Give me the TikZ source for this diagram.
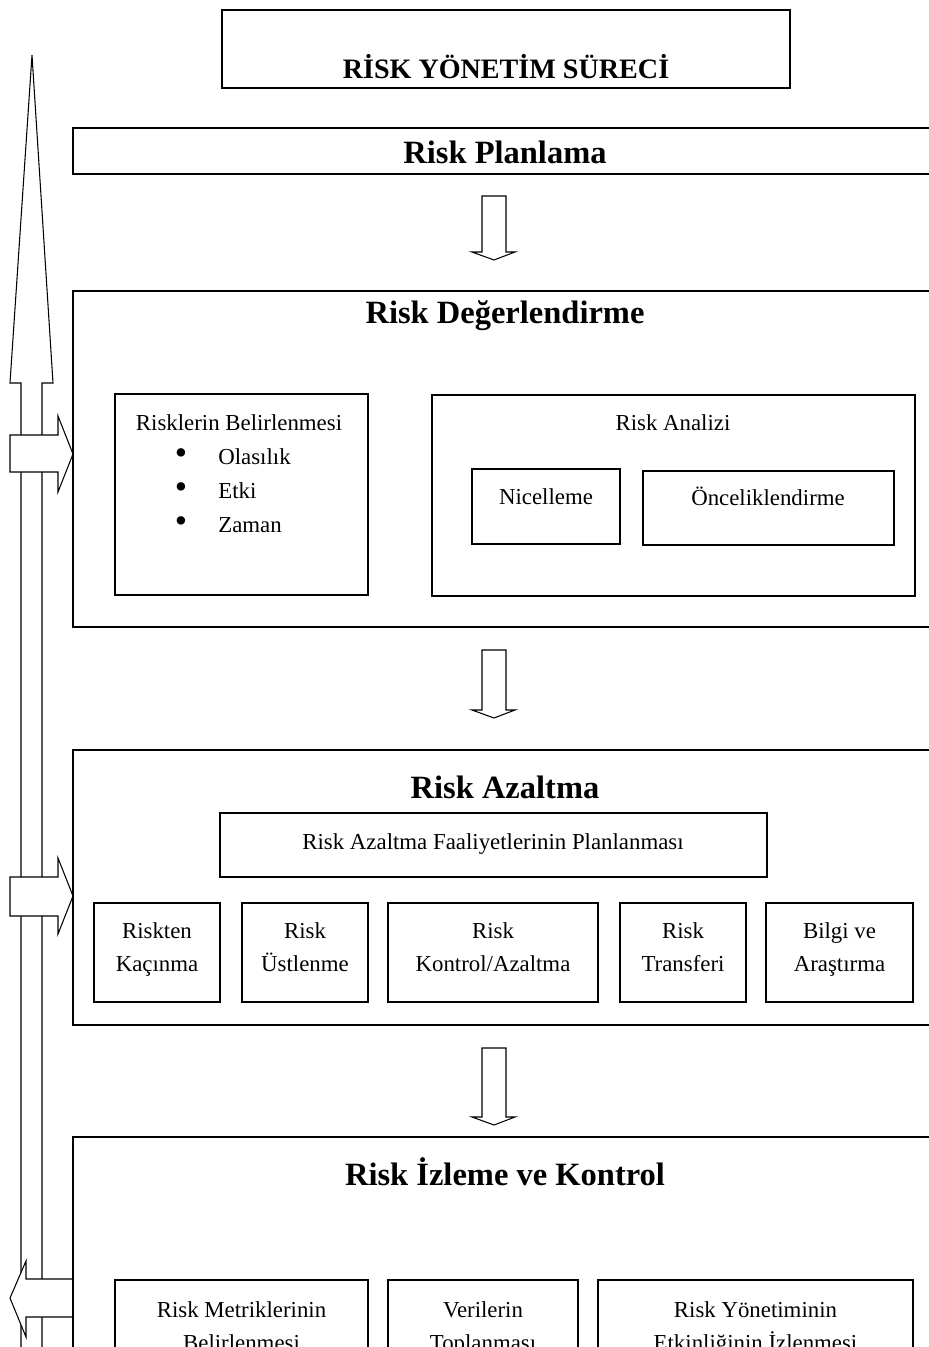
\documentclass[tikz,border=0pt]{standalone}
\usepackage{fontspec}
\setmainfont{Liberation Serif}
\usetikzlibrary{fit,positioning}
\tikzset{
  bolum/.style={draw,line width=.6pt,inner sep=0pt},
  kutu/.style={draw,line width=1.2pt,inner sep=0pt},
  baslik/.style={font=\fontsize{18.5}{22}\selectfont\bfseries},
  yazi/.style={font=\fontsize{13}{18.7}\selectfont,align=center,inner sep=0pt,
    execute at begin node=\strut,execute at end node=\strut},
  imi/.style={font=\fontsize{20}{20}\selectfont,inner sep=0pt},
  blokok/.style={draw,fill=white,line width=.6pt,line join=miter}
}
\begin{document}
\begin{tikzpicture}[x=0.02cm,y=-0.02cm]
\useasboundingbox (0,0) rectangle (929,1347);
\clip (0,0) rectangle (929,1347);
% sol dikey ok
\draw[line width=.6pt] (21,1400)--(21,383)--(10,383)--(32,55)--(53,383)--(42,383)--(42,1400);
\draw[blokok] (10,435)--(58,435)--(58,416)--(73,454)--(58,492)--(58,472)--(10,472)--cycle;
\draw[blokok] (10,877)--(58,877)--(58,858)--(73,896)--(58,934)--(58,916)--(10,916)--cycle;
\draw[blokok] (73,1279)--(26,1279)--(26,1261)--(10,1298)--(26,1337)--(26,1317)--(73,1317);
% asagi oklar
\foreach \u/\a in {196/260,650/718,1048/1125}
  \draw[blokok] (482,\u)--(506,\u)--(506,\a-8)--(515,\a-8)--(494,\a)--(472,\a-8)--(482,\a-8)--cycle;
% baslik
\node[bolum,fit={(222,10) (790,88)}] (ana) {};
\node[font=\fontsize{16}{19}\selectfont\bfseries] (anayazi) at (506,67) {RİSK YÖNETİM SÜRECİ};
% risk planlama
\node[bolum,fit={(73,128) (960,174)}] (plan) {};
\node[baslik] (planyazi) at (505,152) {Risk Planlama};
% risk degerlendirme
\node[bolum,fit={(73,291) (960,627)}] (deger) {};
\node[baslik] (degeryazi) at (505,316) {Risk Değerlendirme};
\node[kutu,fit={(115,394) (368,595)}] (belir) {};
\node[yazi] (belirt) at (239,424) {Risklerin Belirlenmesi};
\foreach \y/\t/\n in {464/Olasılık/ola,498/Etki/etk,532/Zaman/zam}{
  \node[imi] (b\n) at (181,\y-7) {\textbullet};
  \node[yazi,anchor=base west] (\n) at (218,\y) {\t};
}
\node[kutu,fit={(432,395) (915,596)}] (analiz) {};
\node[yazi] (analizt) at (673,424) {Risk Analizi};
\node[kutu,fit={(472,469) (620,544)}] (nicel) {};
\node[yazi] at (546,498) {Nicelleme};
\node[kutu,fit={(643,471) (894,545)}] (oncel) {};
\node[yazi] at (768,499) {Önceliklendirme};
% risk azaltma
\node[bolum,line width=1.1pt,fit={(73,750) (960,1025)}] (azalt) {};
\node[baslik] (azaltyazi) at (505,787) {Risk Azaltma};
\node[kutu,fit={(220,813) (767,877)}] (faal) {};
\node[yazi] at (493,843) {Risk Azaltma Faaliyetlerinin Planlanması};
\foreach \a/\b/\t/\n in {94/220/{Riskten\\Kaçınma}/kac,242/368/{Risk\\Üstlenme}/ust,388/598/{Risk\\Kontrol/Azaltma}/kon,620/746/{Risk\\Transferi}/tra,766/913/{Bilgi ve\\Araştırma}/bil}{
  \node[kutu,fit={(\a,903) (\b,1002)}] (\n) {};
  \node[yazi] at ({(\a+\b)/2},952) {\t};
}
% risk izleme ve kontrol
\node[bolum,line width=1.1pt,fit={(73,1137) (960,1420)}] (izle) {};
\node[baslik] (izleyazi) at (505,1172) {Risk İzleme ve Kontrol};
\foreach \a/\b/\t/\n in {115/368/{Risk Metriklerinin\\Belirlenmesi}/met,388/578/{Verilerin\\Toplanması}/ver,598/913/{Risk Yönetiminin\\Etkinliğinin İzlenmesi}/etk}{
  \node[kutu,fit={(\a,1280) (\b,1400)}] (i\n) {};
  \node[yazi] at ({(\a+\b)/2},1331) {\t};
}
\end{tikzpicture}
\end{document}
